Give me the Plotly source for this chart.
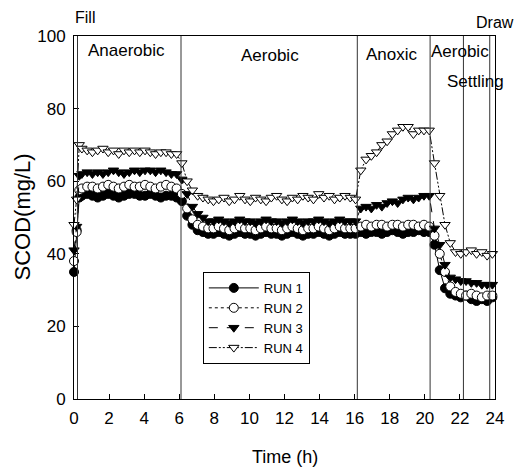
import plotly.graph_objects as go

# ---- data ----
hours = [0.0, 0.15, 0.3] + [round(0.45 + 0.3 * i, 2) for i in range(79)]

run1 = [35, 46.5, 55.5,
        56, 56.5, 56, 55.5, 56, 56.5, 56, 55.5, 56, 56.5, 56.5, 56, 56, 56.5, 56, 55.5, 56, 56, 55.5,
        54.5, 50.5, 48, 46.5, 46,
        45.5, 45.5, 46, 45.5, 45, 45.5, 46, 45.5, 45.5, 45, 45.5, 46, 45.5, 45.5, 45, 45.5, 46, 45.5,
        45, 45.5, 45.5, 46, 45.5, 45, 45.5, 46, 45.5, 45.5, 45.5,
        46, 45.5, 46, 46, 45.5, 46, 46.5, 46, 45.5, 46, 46, 46.5, 46, 46,
        42.5, 35.5, 30.5, 29, 28.5, 28, 28.5, 27.5, 27, 27.5, 27, 28]

run2 = [38, 46, 57.5,
        58, 58.5, 58.5, 58, 58.5, 59, 58.5, 58, 58.5, 59, 58.5, 58.5, 59, 58.5, 58, 58.5, 59, 58.5, 58,
        56.5, 52.5, 49.5, 48, 47.5,
        47, 47, 47.5, 47, 46.5, 47, 47.5, 47, 47, 46.5, 47, 47.5, 47, 47, 46.5, 47, 47.5, 47,
        46.5, 47, 47, 47.5, 47, 46.5, 47, 47.5, 47, 47, 47,
        47.5, 48, 47.5, 48, 48, 47.5, 48, 48, 47.5, 48, 48, 47.5, 48, 47.5,
        45, 40, 35, 31, 29.5, 29, 28.5, 29, 28.5, 28, 28.5, 28.5]

run3 = [41, 47.5, 61.5,
        62, 62.5, 62, 62.5, 62, 62.5, 63, 62.5, 62, 62.5, 63, 62.5, 63, 63, 62.5, 63, 62.5, 62, 62,
        60.5, 56.5, 53, 51, 50,
        49, 49, 49.5, 49, 48.5, 49, 49.5, 49, 49, 48.5, 49, 49.5, 49, 49, 48.5, 49, 49.5, 49,
        48.5, 49, 49, 49.5, 49, 48.5, 49, 49.5, 49, 49, 49,
        52.5, 53, 52.5, 53.5, 53, 54, 54.5, 54, 55, 55.5, 55, 55.5, 56, 56,
        47, 42.5, 37, 33.5, 33, 32.5, 32.5, 32, 32, 31.5, 31.5, 31.5]

run4 = [48, 55, 70,
        69, 68.5, 68, 68.5, 69, 68, 68.5, 67.5, 68.5, 68, 68.5, 68, 68.5, 68, 67.5, 68, 68, 67.5, 67.5,
        65, 60, 57.5, 56, 55.5,
        55, 54.5, 55, 55.5, 54.5, 55, 56, 55, 54.5, 55.5, 55, 54.5, 55.5, 56, 55, 54.5, 55.5, 55,
        56, 55.5, 55, 56.5, 55.5, 56, 55, 55.5, 56, 55.5, 55,
        63, 66, 67, 68, 70, 71, 73, 74, 75, 75, 73, 74, 74, 74,
        65, 56, 48, 43, 40.5, 40, 40.5, 41, 40, 40.5, 39.5, 40]

series_names = ["RUN 1", "RUN 2", "RUN 3", "RUN 4"]
phase_lines = [0.2, 6.1, 16.15, 20.3, 22.2, 23.7]
# labels inside the plot (data coordinates)
phase_labels = ["Anaerobic", "Aerobic", "Anoxic", "Aerobic", "Settling"]
phase_label_x = [3.0, 11.2, 18.1, 22.0, 22.9]
phase_label_y = [95.9, 94.5, 95.0, 95.6, 87.6]
# labels above the plot (paper coordinates)
outer_labels = ["Fill", "Draw"]
outer_label_x = [-0.002, 0.950]
outer_label_y = [1.05, 1.036]
x_ticks = list(range(0, 25, 2))
y_ticks = list(range(0, 101, 20))

FONT = "Liberation Sans, Arial, sans-serif"

styles = [
    dict(symbol="circle", color="black", dash="solid"),
    dict(symbol="circle", color="white", dash="dot"),
    dict(symbol="triangle-down", color="black", dash="dash"),
    dict(symbol="triangle-down", color="white", dash="8px,2px,2px,2px,2px,2px"),
]

fig = go.Figure()
for name, vals, st in zip(series_names, [run1, run2, run3, run4], styles):
    fig.add_trace(go.Scatter(
        x=hours, y=vals, name=name, mode="lines+markers", cliponaxis=False,
        line=dict(color="black", width=1, dash=st["dash"]),
        marker=dict(symbol=st["symbol"], size=9, color=st["color"],
                    line=dict(color="black", width=1)),
    ))

for xl in phase_lines:
    fig.add_shape(type="line", xref="x", yref="paper", x0=xl, x1=xl, y0=0, y1=1,
                  line=dict(color="#333333", width=1), layer="above")

for txt, lx, ly in zip(phase_labels, phase_label_x, phase_label_y):
    fig.add_annotation(x=lx, y=ly, xref="x", yref="y", text=txt, showarrow=False,
                       xanchor="center", yanchor="middle",
                       font=dict(family=FONT, size=17, color="black"))

for txt, lx, ly in zip(outer_labels, outer_label_x, outer_label_y):
    fig.add_annotation(x=lx, y=ly, xref="paper", yref="paper", text=txt, showarrow=False,
                       xanchor="left", yanchor="middle",
                       font=dict(family=FONT, size=16, color="black"))

fig.add_annotation(x=-0.1235, y=0.5, xref="paper", yref="paper", text="SCOD(mg/L)",
                   textangle=-90, showarrow=False, xanchor="center", yanchor="middle",
                   font=dict(family=FONT, size=22, color="black"))
fig.add_annotation(x=0.5, y=-0.16, xref="paper", yref="paper", text="Time (h)",
                   showarrow=False, xanchor="center", yanchor="middle",
                   font=dict(family=FONT, size=18, color="black"))

fig.update_xaxes(range=[0, 24], tickvals=x_ticks, ticks="inside", ticklen=5,
                 tickcolor="black", showline=True, linecolor="black", linewidth=1,
                 mirror=True, showgrid=False, zeroline=False, ticklabelstandoff=4,
                 tickfont=dict(family=FONT, size=17, color="black"))
fig.update_yaxes(range=[0, 100], tickvals=y_ticks, ticks="inside", ticklen=5,
                 tickcolor="black", showline=True, linecolor="black", linewidth=1,
                 mirror=True, showgrid=False, zeroline=False, ticklabelstandoff=4,
                 tickfont=dict(family=FONT, size=17, color="black"))

# the page body adds an 8 px margin, so the figure is sized and offset to fit
fig.update_layout(
    width=515, height=460,
    margin=dict(l=66, r=28, t=28, b=69),
    plot_bgcolor="white", paper_bgcolor="white",
    legend=dict(x=0.306, y=0.35, xanchor="left", yanchor="top",
                bordercolor="black", borderwidth=1, bgcolor="white",
                font=dict(family=FONT, size=13, color="black"),
                itemwidth=50, tracegroupgap=0),
)

fig.write_html("out.html")
